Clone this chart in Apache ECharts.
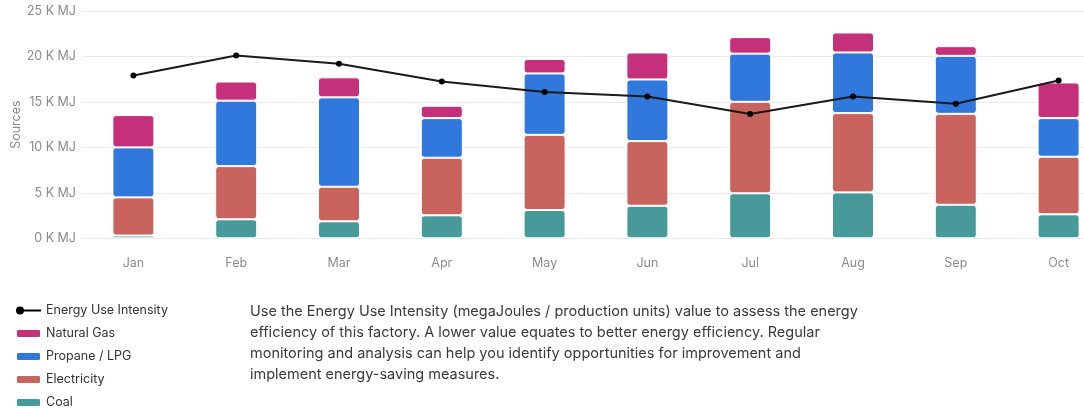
<!DOCTYPE html>
<html>
<head>
<meta charset="utf-8">
<script src="https://cdn.jsdelivr.net/npm/echarts@6/dist/echarts.min.js"></script>
<style>
html,body{margin:0;padding:0;background:#fff;}
#chart{width:1084px;height:408px;}
</style>
</head>
<body>
<div id="chart"></div>
<script>
const months = ['Jan','Feb','Mar','Apr','May','Jun','Jul','Aug','Sep','Oct'];
const coal = [300, 2090, 1870, 2530, 3110, 3580, 4950, 5050, 3690, 2640];
const electricity = [4200, 5850, 3800, 6330, 8270, 7110, 10060, 8720, 10000, 6330];
const propane = [5500, 7200, 9830, 4360, 6750, 6780, 5300, 6670, 6380, 4250];
const naturalGas = [3550, 2100, 2200, 1360, 1600, 2970, 1820, 2200, 1060, 3920];
const energyUseIntensity = [17900, 20100, 19200, 17250, 16080, 15600, 13660, 15600, 14800, 17360];
const noteLines = [
  'Use the Energy Use Intensity (megaJoules / production units) value to assess the energy',
  'efficiency of this factory. A lower value equates to better energy efficiency. Regular',
  'monitoring and analysis can help you identify opportunities for improvement and',
  'implement energy-saving measures.'
];

const FONT = 'Inter, "Liberation Sans", Arial, sans-serif';
const chart = echarts.init(document.getElementById('chart'), null, {renderer: 'canvas'});

const barStyle = (color) => ({
  color: color,
  borderColor: '#ffffff',
  borderWidth: 1,
  borderRadius: 3
});

const lineIcon = 'path://M0,4.5 A4,4 0 1,1 8,4.5 A4,4 0 1,1 0,4.5 Z M7,3.6 L25,3.6 L25,5.4 L7,5.4 Z';

const option = {
  animation: false,
  backgroundColor: '#ffffff',
  textStyle: {fontFamily: FONT},
  grid: {left: 82, top: 11, width: 1028, height: 227.3, containLabel: false, outerBoundsMode: 'none'},
  legend: {
    orient: 'vertical',
    left: 10,
    top: 299,
    height: 140,
    itemWidth: 25,
    itemHeight: 9,
    itemGap: 10,
    textStyle: {fontFamily: FONT, fontSize: 12.5, color: '#333'},
    data: [
      {name: 'Energy Use Intensity', icon: lineIcon},
      'Natural Gas', 'Propane / LPG', 'Electricity', 'Coal'
    ]
  },
  xAxis: {
    type: 'category',
    data: months,
    axisLine: {show: false},
    axisTick: {show: false},
    axisLabel: {color: '#8c8c8c', fontSize: 12.5, margin: 18, fontFamily: FONT}
  },
  yAxis: {
    type: 'value',
    min: 0,
    max: 25000,
    interval: 5000,
    name: 'Sources',
    nameLocation: 'middle',
    nameGap: 59,
    nameMoveOverlap: false,
    nameTextStyle: {color: '#8c8c8c', fontSize: 12.5, fontFamily: FONT},
    axisLine: {show: false},
    axisTick: {show: false},
    splitLine: {lineStyle: {color: '#ebebeb', width: 1}},
    axisLabel: {
      color: '#8c8c8c', fontSize: 12.5, margin: 6, fontFamily: FONT,
      formatter: (v) => (v / 1000) + ' K MJ'
    }
  },
  graphic: [{
    type: 'text',
    left: 250,
    top: 301,
    style: {
      text: noteLines.join('\n'),
      font: '14.5px ' + FONT,
      fill: '#3a3a3a',
      lineHeight: 21
    }
  }],
  series: [
    {name: 'Coal', type: 'bar', stack: 'src', data: coal, barWidth: 42, itemStyle: barStyle('#489a9a')},
    {name: 'Electricity', type: 'bar', stack: 'src', data: electricity, barWidth: 42, itemStyle: barStyle('#c9635d')},
    {name: 'Propane / LPG', type: 'bar', stack: 'src', data: propane, barWidth: 42, itemStyle: barStyle('#3178dd')},
    {name: 'Natural Gas', type: 'bar', stack: 'src', data: naturalGas, barWidth: 42, itemStyle: barStyle('#c5307b')},
    {
      name: 'Energy Use Intensity', type: 'line', data: energyUseIntensity,
      symbol: 'circle', symbolSize: 6, z: 5,
      lineStyle: {color: '#1a1a1a', width: 2},
      itemStyle: {color: '#000000'}
    }
  ]
};
chart.setOption(option);
</script>
</body>
</html>
